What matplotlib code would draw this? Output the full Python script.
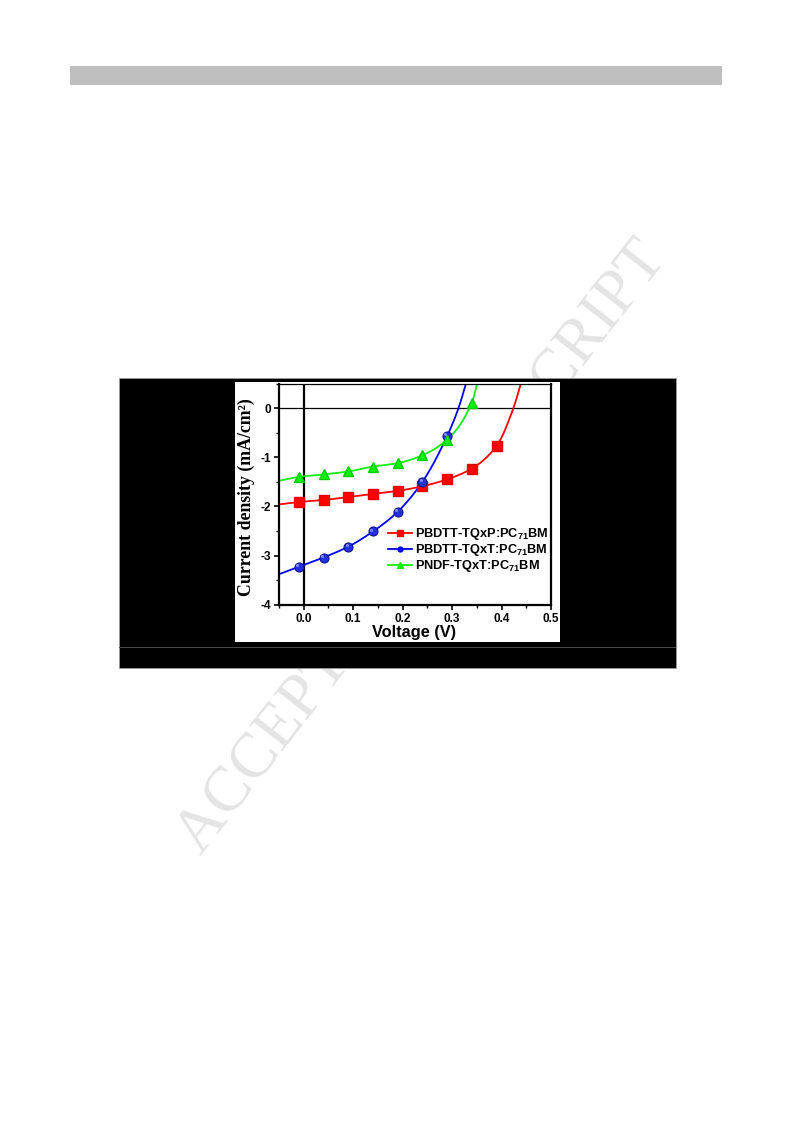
import numpy as np
import matplotlib
matplotlib.use('Agg')
import matplotlib.pyplot as plt
from matplotlib.patches import Rectangle
from matplotlib.lines import Line2D
from matplotlib.ticker import MultipleLocator, FormatStrFormatter
import matplotlib.transforms as mtransforms

plt.rcParams['axes.unicode_minus'] = False
plt.rcParams['mathtext.fontset'] = 'custom'
plt.rcParams['mathtext.rm'] = 'Liberation Sans:bold'
plt.rcParams['mathtext.bf'] = 'Liberation Sans:bold'
plt.rcParams['mathtext.it'] = 'Liberation Sans:bold'

# ---------------- data ----------------
series_labels = ['PBDTT-TQxP:PC$_{71}$BM', 'PBDTT-TQxT:PC$_{71}$BM', 'PNDF-TQxT:PC$_{71}$BM']

# measured points (markers)
red_v = [-0.01, 0.04, 0.09, 0.14, 0.19, 0.24, 0.29, 0.34, 0.39]
red_j = [-1.91, -1.87, -1.81, -1.745, -1.685, -1.59, -1.45, -1.23, -0.77]
blue_v = [-0.01, 0.04, 0.09, 0.14, 0.19, 0.24, 0.29]
blue_j = [-3.23, -3.04, -2.82, -2.51, -2.11, -1.50, -0.57]
green_v = [-0.01, 0.04, 0.09, 0.14, 0.19, 0.24, 0.29, 0.34]
green_j = [-1.40, -1.35, -1.29, -1.19, -1.12, -0.96, -0.64, 0.11]

# extra points (start, zero crossing, exit at top)
red_curve_v = [-0.05] + red_v + [0.424, 0.442]
red_curve_j = [-1.96] + red_j + [0.0, 0.6]
blue_curve_v = [-0.05] + blue_v + [0.313, 0.331]
blue_curve_j = [-3.38] + blue_j + [0.0, 0.6]
green_curve_v = [-0.05] + green_v + [0.353]
green_curve_j = [-1.48] + green_j + [0.6]

x_ticks = [0.0, 0.1, 0.2, 0.3, 0.4, 0.5]
y_ticks = [-4, -3, -2, -1, 0]


def pchip(x, y, xs):
    x = np.asarray(x, float); y = np.asarray(y, float)
    h = np.diff(x); d = np.diff(y) / h
    n = len(x); m = np.zeros(n)
    for k in range(1, n - 1):
        if d[k - 1] * d[k] > 0:
            w1 = 2 * h[k] + h[k - 1]; w2 = h[k] + 2 * h[k - 1]
            m[k] = (w1 + w2) / (w1 / d[k - 1] + w2 / d[k])
    m[0] = d[0]; m[-1] = d[-1]
    idx = np.clip(np.searchsorted(x, xs) - 1, 0, n - 2)
    t = (xs - x[idx]) / h[idx]
    h00 = 2 * t**3 - 3 * t**2 + 1; h10 = t**3 - 2 * t**2 + t
    h01 = -2 * t**3 + 3 * t**2; h11 = t**3 - t**2
    return h00 * y[idx] + h10 * h[idx] * m[idx] + h01 * y[idx + 1] + h11 * h[idx] * m[idx + 1]


W, H = 793, 1123
fig = plt.figure(figsize=(W / 100, H / 100), dpi=100)


def rect(x0, y0, x1, y1, **kw):
    r = Rectangle((x0 / W, 1 - y1 / H), (x1 - x0) / W, (y1 - y0) / H,
                  transform=fig.transFigure, **kw)
    fig.patches.append(r)
    return r

# page decorations
rect(70, 66, 722, 85, facecolor='#bfbfbf', edgecolor='none', zorder=1)
fig.text(422 / W, 1 - 548 / H, 'ACCEPTED MANUSCRIPT', rotation=52, rotation_mode='anchor',
         ha='center', va='center', fontsize=46, family='Liberation Serif',
         color='#e4e4e4', zorder=0.5)
rect(118.5, 377.5, 676, 668, facecolor='black', edgecolor='#9a9a9a', linewidth=0.6, zorder=2)
rect(118.5, 646.5, 676, 647.8, facecolor='#4a4a4a', edgecolor='none', zorder=2.1)
rect(235, 382.3, 559.5, 641.7, facecolor='white', edgecolor='none', zorder=2.2)

# axes
ax = fig.add_axes([279 / W, 1 - 604.7 / H, 272 / W, 221.2 / H])
ax.set_zorder(5)
ax.set_xlim(-0.05, 0.5)
ax.set_ylim(-4, 0.5)

ax.axhline(0, color='black', lw=0.9, zorder=1)
ax.axvline(0, color='black', lw=1.6, zorder=1)

colors = ['#ff0000', '#0000ff', '#11ee11']
curves = [(red_curve_v, red_curve_j), (blue_curve_v, blue_curve_j), (green_curve_v, green_curve_j)]
for (cv, cj), c in zip(curves, colors):
    xs = np.linspace(cv[0], cv[-1], 600)
    ax.plot(xs, pchip(cv, cj, xs), color=c, lw=1.3, zorder=2)

ax.plot(red_v, red_j, 's', color='#ff0000', ms=6.8, mec='#e00000', zorder=3)
ax.plot(blue_v, blue_j, 'o', color='#2430e0', ms=6.5, mec='#0c148c', mew=0.8, zorder=3)
ax.plot(blue_v, blue_j, 'o', color='#7f8cff', ms=2.2, mew=0, zorder=3.1,
        transform=ax.transData + mtransforms.ScaledTranslation(-1.2 / 72, 1.2 / 72, fig.dpi_scale_trans))
ax.plot(green_v, green_j, '^', color='#11ee11', ms=7.8, mec='#00cc00', zorder=3)

handles = [Line2D([], [], color='#ff0000', marker='s', ms=4, lw=1.3),
           Line2D([], [], color='#0000ff', marker='o', ms=3.5, lw=1.3),
           Line2D([], [], color='#11ee11', marker='^', ms=5, lw=1.3)]
leg = ax.legend(handles, series_labels, loc='upper left', bbox_to_anchor=(0.40, 0.355),
                frameon=False, handlelength=1.9, handletextpad=0.25, labelspacing=0.0,
                borderpad=0, borderaxespad=0,
                prop={'family': 'Liberation Sans', 'weight': 'bold', 'size': 9.2})

for s in ['left', 'bottom', 'right']:
    ax.spines[s].set_linewidth(1.6)
ax.spines['top'].set_linewidth(0.9)

ax.set_xticks(x_ticks)
ax.set_yticks(y_ticks)
ax.xaxis.set_minor_locator(MultipleLocator(0.05))
ax.yaxis.set_minor_locator(MultipleLocator(0.5))
ax.xaxis.set_major_formatter(FormatStrFormatter('%.1f'))
ax.yaxis.set_major_formatter(FormatStrFormatter('%d'))
ax.tick_params(which='major', direction='out', length=3.5, width=1.2, top=False, right=False,
               labelsize=8.5, pad=2.5)
ax.tick_params(which='minor', direction='out', length=2, width=1.0, top=False, right=False)
for lab in ax.get_xticklabels() + ax.get_yticklabels():
    lab.set_fontfamily('Liberation Sans')
    lab.set_fontweight('bold')

fig.text(246 / W, 1 - 497 / H, 'Current density (mA/cm²)', rotation=90, ha='center', va='center',
         family='Liberation Serif', fontweight='bold', fontsize=12.8, zorder=6)
fig.text(414 / W, 1 - 632 / H, 'Voltage (V)', ha='center', va='center',
         family='Liberation Sans', fontweight='bold', fontsize=11.8, zorder=6)

fig.savefig('out.png', dpi=100)
